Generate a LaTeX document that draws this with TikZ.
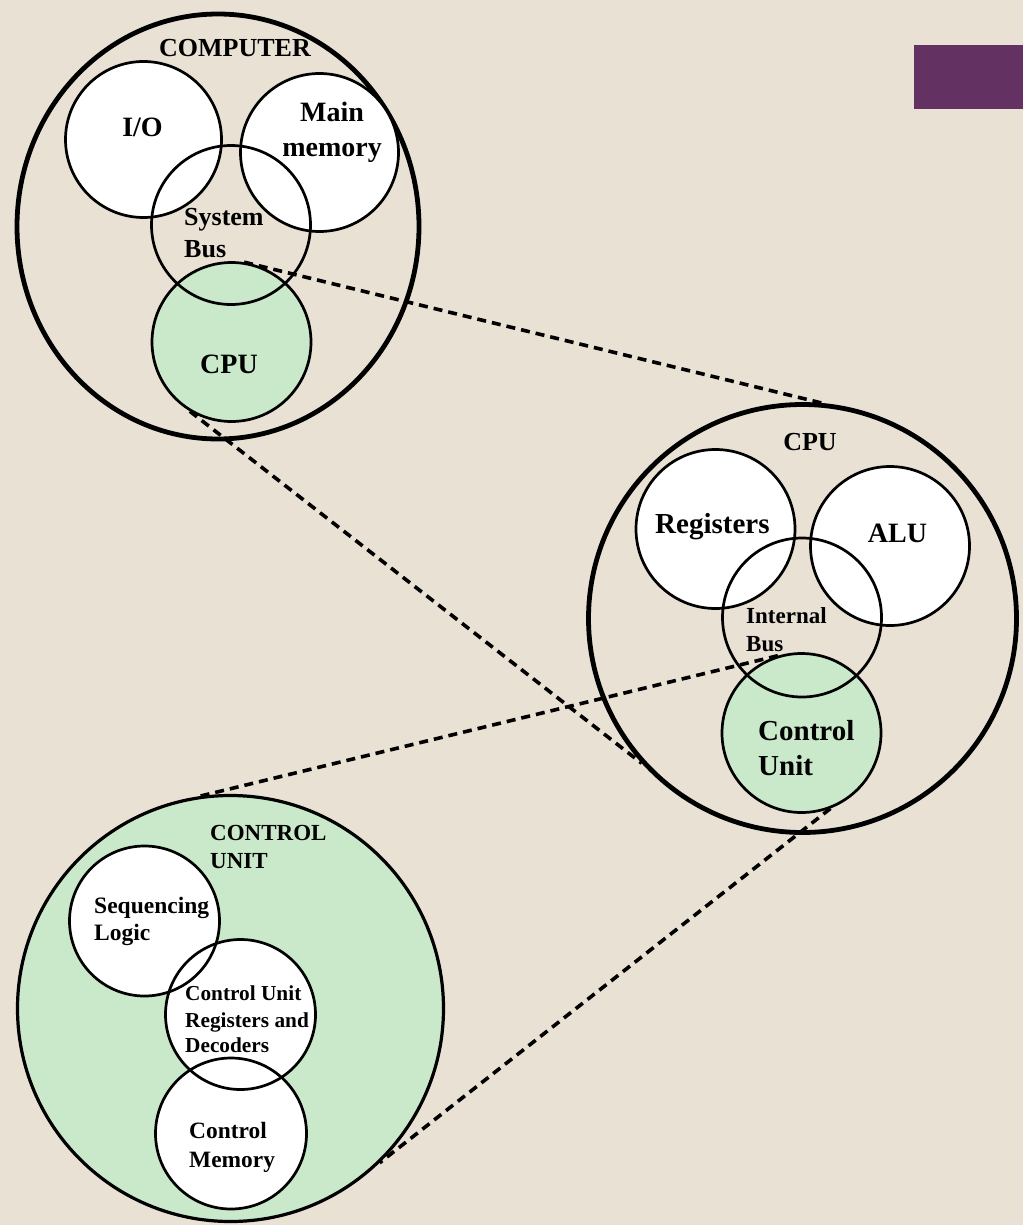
\documentclass[tikz,border=0pt]{standalone}
\usepackage{fontspec}
\setmainfont{Liberation Serif}
\usetikzlibrary{shapes.geometric}
\definecolor{bg}{RGB}{232,225,212}
\definecolor{cugreen}{RGB}{202,232,202}
\definecolor{accent}{RGB}{99,50,98}
\begin{document}
\begin{tikzpicture}[x=1pt,y=-1pt,
  bigcirc/.style={circle, draw, line width=4.8pt, inner sep=0pt, minimum size=#1},
  part/.style={circle, draw, line width=2.7pt, inner sep=0pt, minimum size=#1},
  partfill/.style={circle, fill=white, inner sep=0pt, minimum size=#1},
  outline/.style={draw, line width=2.7pt},
  txt/.style={inner sep=0pt, font=\bfseries\fontsize{#1}{#1}\selectfont},
  zoomline/.style={line width=3.6pt, dash pattern=on 9pt off 6pt}]
% background and accent
\fill[bg] (0,0) rectangle (1023,1225);
\fill[accent] (914,45) rectangle (1023,109);
\useasboundingbox (0,0) rectangle (1023,1225);

% ---------- COMPUTER ----------
\node[ellipse, draw, line width=4.8pt, inner sep=0pt, minimum width=402pt, minimum height=425pt] (computer) at (218,226.5) {};
\node[part=156pt, fill=white] (io) at (143.5,139.5) {};
\node[part=158pt, fill=white] (mem) at (319.5,152.5) {};
\node[part=159pt, fill=cugreen] (cpu) at (231.5,342) {};
\node[part=159pt] (sbus) at (231,225) {};

\node[txt=26, anchor=base] (tcomputer) at (235,57) {COMPUTER};
\node[txt=28, anchor=base] (tio) at (142.5,137) {I/O};
\node[txt=28, anchor=base] (tmain) at (332,122) {Main};
\node[txt=28, anchor=base] (tmemory) at (332,157) {memory};
\node[txt=26, anchor=base west] (tsystem) at (184,225) {System};
\node[txt=26, anchor=base west] (tsbus) at (184,257) {Bus};
\node[txt=28, anchor=base] (tcpu) at (229,373) {CPU};

% ---------- CPU ----------
\node[bigcirc=428pt] (bigcpu) at (802.5,618.5) {};
\node[part=159pt, fill=white] (reg) at (715.5,529) {};
\node[part=159pt, fill=white] (alu) at (890,546) {};
\node[part=159pt, fill=cugreen] (cu) at (801.5,733) {};
\node[part=159pt] (ibus) at (802,617.5) {};

\node[txt=26, anchor=base] (tbigcpu) at (810,450) {CPU};
\node[txt=29, anchor=base west] (treg) at (655,533) {Registers};
\node[txt=28, anchor=base] (talu) at (897.5,542) {ALU};
\node[txt=23, anchor=base west] (tinternal) at (746,623) {Internal};
\node[txt=23, anchor=base west] (tibus) at (746,651) {Bus};
\node[txt=29, anchor=base west] (tcontrol) at (758,740) {Control};
\node[txt=29, anchor=base west] (tunit) at (758,775) {Unit};

% ---------- CONTROL UNIT ----------
\node[circle, draw, line width=3.2pt, fill=cugreen, inner sep=0pt, minimum size=426pt] (bigcu) at (230.5,1008.5) {};
\node[partfill=150pt] (seq) at (144.5,921) {};
\node[partfill=150pt] (cureg) at (240.5,1014.5) {};
\node[partfill=151pt] (cmem) at (231,1133.5) {};
\draw[outline] (seq.center) circle[radius=75pt];
\draw[outline] (cureg.center) circle[radius=75pt];
\draw[outline] (cmem.center) circle[radius=75.5pt];

\node[txt=23, anchor=base west] (tcontrolu) at (210,840) {CONTROL};
\node[txt=23, anchor=base west] (tunitu) at (210,868) {UNIT};
\node[txt=23.5, anchor=base west] (tseq) at (94,913) {Sequencing};
\node[txt=23.5, anchor=base west] (tlogic) at (94,940) {Logic};
\node[txt=21.3, anchor=base west] (tcur1) at (185,1000) {Control Unit};
\node[txt=21.3, anchor=base west] (tcur2) at (185,1027) {Registers and};
\node[txt=21.3, anchor=base west] (tcur3) at (185,1052) {Decoders};
\node[txt=23.4, anchor=base west] (tcm1) at (189,1138) {Control};
\node[txt=23.4, anchor=base west] (tcm2) at (189,1167) {Memory};

% ---------- zoom lines ----------
\draw[zoomline] (cpu.81.7) -- (bigcpu.85.2);
\draw[zoomline] (cpu.239.3) -- (bigcpu.222.4);
\draw[zoomline] (bigcu.98.7) -- (cu.107);
\draw[zoomline] (cu.291.6) -- (bigcu.314.1);
\end{tikzpicture}
\end{document}
